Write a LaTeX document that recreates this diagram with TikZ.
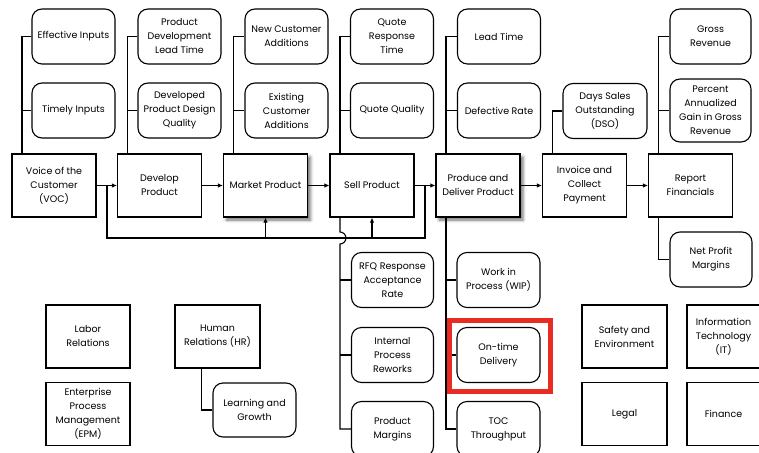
\documentclass[tikz,border=0pt]{standalone}
\usepackage{fontspec}
\setmainfont{Poppins}
\usepackage{tikz}
\usetikzlibrary{arrows.meta,shadows.blur}
\definecolor{hilite}{RGB}{232,44,36}
\tikzset{
    every node/.style={font=\fontsize{9.5}{14}\selectfont},
    proc/.style={draw, fill=white, line width=1.1pt, minimum width=84pt, minimum height=63pt, align=center, inner sep=1pt},
    metric/.style={draw, fill=white, rounded corners=10pt, line width=1.1pt, minimum width=83pt, minimum height=55pt, align=center, inner sep=1pt},
    shade/.style={blur shadow={shadow xshift=3pt, shadow yshift=-3pt, shadow blur radius=3pt, shadow opacity=55}},
    link/.style={line width=1.1pt},
    flow/.style={line width=1.3pt, -{Latex[length=5pt,width=4.5pt]}},
}

\begin{document}
\begin{tikzpicture}[x=1pt,y=-1pt]
    \useasboundingbox (0,0) rectangle (759,452);

    \node[proc] (voc) at (54,185.5) {Voice of the\\Customer\\(VOC)};
    \node[proc] (dev) at (159.5,185.5) {Develop\\Product};
    \node[proc,shade] (mkt) at (265.5,185.5) {Market Product};
    \node[proc] (sell) at (372,185.5) {Sell Product};
    \node[proc,shade] (prod) at (478,185.5) {Produce and\\Deliver Product};
    \node[proc] (inv) at (584.5,185.5) {Invoice and\\Collect\\Payment};
    \node[proc] (rep) at (690.5,185.5) {Report\\Financials};

    \node[metric] (eff) at (73.5,36.5) {Effective Inputs};
    \node[metric] (timely) at (73.5,110.5) {Timely Inputs};
    \node[metric] (pdlt) at (179.5,36.5) {Product\\Development\\Lead Time};
    \node[metric] (dpdq) at (179.5,110.5) {Developed\\Product Design\\Quality};
    \node[metric] (newcust) at (286.5,36.5) {New Customer\\Additions};
    \node[metric] (oldcust) at (286.5,110.5) {Existing\\Customer\\Additions};
    \node[metric] (qrt) at (392,36.5) {Quote\\Response\\Time};
    \node[metric] (qq) at (392,110.5) {Quote Quality};
    \node[metric] (lead) at (499,36.5) {Lead Time};
    \node[metric] (defect) at (499,110.5) {Defective Rate};
    \node[metric,minimum width=84pt] (dso) at (605,111) {Days Sales\\Outstanding\\(DSO)};
    \node[metric,minimum width=81pt] (gross) at (710.5,36.5) {Gross\\Revenue};
    \node[metric,minimum width=81pt,minimum height=63pt] (pagr) at (710.5,110.5) {Percent\\Annualized\\Gain in Gross\\Revenue};

    \node[metric,minimum width=82pt] (rfq) at (392.5,280) {RFQ Response\\Acceptance\\Rate};
    \node[metric,minimum width=82pt] (ipr) at (392.5,355) {Internal\\Process\\Reworks};
    \node[metric,minimum width=82pt] (pm) at (392.5,429) {Product\\Margins};
    \node[metric] (wip) at (498.5,280) {Work in\\Process (WIP)};
    \node[metric] (otd) at (498.5,355) {On-time\\Delivery};
    \node[metric] (toc) at (498.5,429) {TOC\\Throughput};
    \node[metric,minimum width=82pt] (npm) at (711,259.5) {Net Profit\\Margins};

    \node[proc] (labor) at (88,336.5) {Labor\\Relations};
    \node[proc] (epm) at (88,414) {Enterprise\\Process\\Management\\(EPM)};
    \node[proc,minimum width=85pt] (hr) at (217.5,336.5) {Human\\Relations (HR)};
    \node[metric,minimum height=54pt] (lg) at (254.5,410) {Learning and\\Growth};
    \node[proc,minimum width=85pt] (safety) at (624.5,336.5) {Safety and\\Environment};
    \node[proc,minimum width=73pt] (it) at (723.5,336.5) {Information\\Technology\\(IT)};
    \node[proc,minimum width=85pt] (legal) at (624.5,414) {Legal};
    \node[proc,minimum width=73pt] (finance) at (723.5,414) {Finance};

    \coordinate (vocbus) at ([xshift=10.5pt]voc.north west);
    \coordinate (devbus) at ([xshift=10.5pt]dev.north west);
    \coordinate (mktbus) at ([xshift=10.5pt]mkt.north west);
    \coordinate (sellbus) at ([xshift=10.5pt]sell.north west);
    \coordinate (prodbus) at ([xshift=10.5pt]prod.north west);
    \coordinate (invbus) at ([xshift=10.5pt]inv.north west);
    \coordinate (repbus) at ([xshift=10.5pt]rep.north west);
    \coordinate (sellfoot) at ([xshift=10.5pt]sell.south west);
    \coordinate (prodfoot) at ([xshift=10.5pt]prod.south west);
    \coordinate (repfoot) at ([xshift=10.5pt]rep.south west);
    \coordinate (fbline) at (0,238);
    \coordinate (fbstart) at (425,185.5);
    \coordinate (fbend) at (107,185.5);
    \coordinate (hop) at (sellfoot |- fbline);

    \draw[link] (eff.west) -| (vocbus) (timely.west) -- (timely.west -| vocbus);
    \draw[link] (pdlt.west) -| (devbus) (dpdq.west) -- (dpdq.west -| devbus);
    \draw[link] (newcust.west) -| (mktbus) (oldcust.west) -- (oldcust.west -| mktbus);
    \draw[link] (qrt.west) -| (sellbus) (qq.west) -- (qq.west -| sellbus);
    \draw[link] (lead.west) -| (prodbus) (defect.west) -- (defect.west -| prodbus);
    \draw[link] (dso.west) -| (invbus);
    \draw[link] (gross.west) -| (repbus) (pagr.west) -- (pagr.west -| repbus);

    \draw[flow] (voc) -- (dev);
    \draw[flow] (dev) -- (mkt);
    \draw[flow] (mkt) -- (sell);
    \draw[flow] (sell) -- (prod);
    \draw[flow] (prod) -- (inv);
    \draw[flow] (inv) -- (rep);

    \draw[link] (fbstart) |- (fbline -| fbend) -- (fbend);
    \draw[flow] (mkt.south |- fbline) -- (mkt.south);
    \draw[flow] (sell.south |- fbline) -- (sell.south);

    \draw[link] (sellfoot) -- ([yshift=6pt]hop) arc[start angle=90,end angle=-90,radius=6pt] |- (pm.west);
    \draw[link] (rfq.west) -- (rfq.west -| sellfoot) (ipr.west) -- (ipr.west -| sellfoot);
    \draw[link] (prodfoot) |- (toc.west);
    \draw[link] (wip.west) -- (wip.west -| prodfoot) (otd.west) -- (otd.west -| prodfoot);
    \draw[link] (repfoot) |- (npm.west);
    \draw[link] ([xshift=27pt]hr.south west) |- (lg.west);

    \draw[hilite,line width=5pt] ([shift={(-7,-6)}]otd.north west) rectangle ([shift={(10,8)}]otd.south east);
\end{tikzpicture}
\end{document}
